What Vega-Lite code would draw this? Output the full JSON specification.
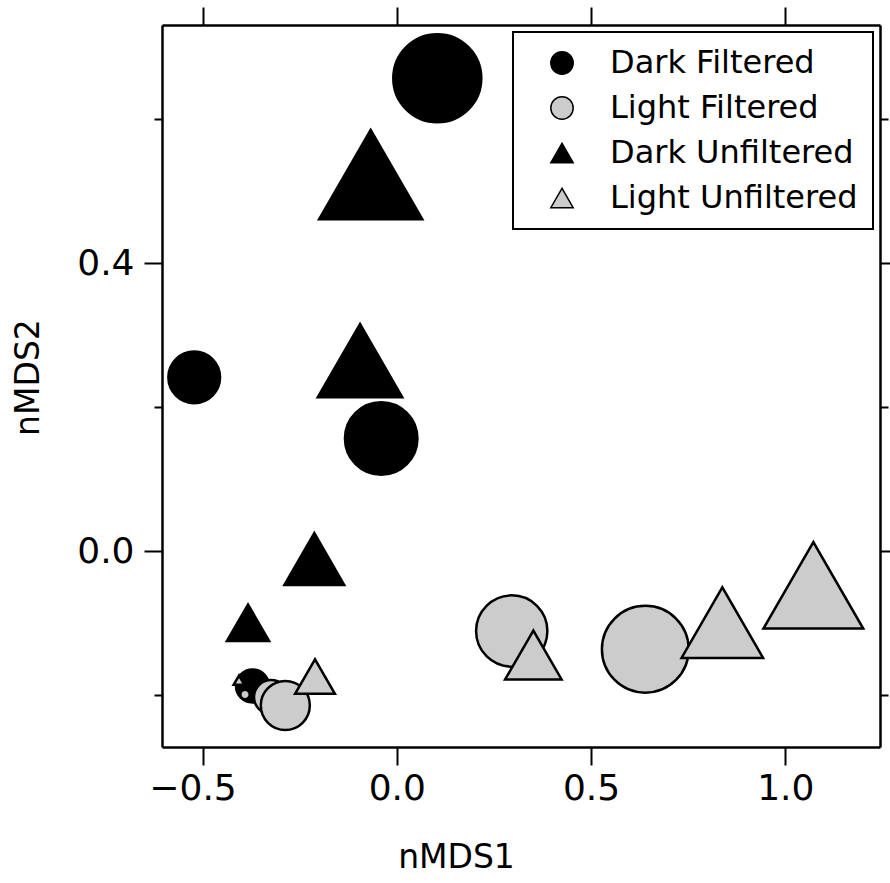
{
  "$schema": "https://vega.github.io/schema/vega-lite/v6.json",
  "width": 718,
  "height": 722,
  "autosize": {"type": "none"},
  "padding": {"left": 162, "top": 25, "right": 10, "bottom": 136},
  "background": "white",
  "config": {
    "view": {"stroke": null},
    "font": "DejaVu Sans",
    "legend": {"strokeWidth": 2},
    "axis": {
      "domainColor": "black",
      "domainWidth": 2.5,
      "tickColor": "black",
      "tickWidth": 2,
      "labelColor": "black",
      "titleColor": "black",
      "labelFont": "DejaVu Sans",
      "titleFont": "DejaVu Sans",
      "labelFontSize": 36,
      "titleFontSize": 33,
      "titleFontWeight": "normal",
      "grid": false
    }
  },
  "data": {
    "values": [
      {"group": "Dark Filtered", "nMDS1": -0.3714, "nMDS2": -0.1875, "mag": 3.3},
      {"group": "Dark Filtered", "nMDS1": -0.5215, "nMDS2": 0.2413, "mag": 5.17},
      {"group": "Dark Filtered", "nMDS1": -0.0402, "nMDS2": 0.1563, "mag": 7.25},
      {"group": "Dark Filtered", "nMDS1": 0.1042, "nMDS2": 0.6565, "mag": 8.8},
      {"group": "Light Filtered", "nMDS1": -0.3907, "nMDS2": -0.1993, "mag": 0.94},
      {"group": "Light Filtered", "nMDS1": -0.3238, "nMDS2": -0.2028, "mag": 3.4},
      {"group": "Light Filtered", "nMDS1": -0.287, "nMDS2": -0.2146, "mag": 4.9},
      {"group": "Light Filtered", "nMDS1": 0.2958, "nMDS2": -0.1111, "mag": 7.13},
      {"group": "Light Filtered", "nMDS1": 0.6396, "nMDS2": -0.1364, "mag": 8.68},
      {"group": "Dark Unfiltered", "nMDS1": -0.383, "nMDS2": -0.0997, "mag": 4.22},
      {"group": "Dark Unfiltered", "nMDS1": -0.2124, "nMDS2": -0.0111, "mag": 5.98},
      {"group": "Dark Unfiltered", "nMDS1": -0.0947, "nMDS2": 0.2644, "mag": 8.45},
      {"group": "Dark Unfiltered", "nMDS1": -0.0672, "nMDS2": 0.5228, "mag": 10.32},
      {"group": "Light Unfiltered", "nMDS1": -0.4062, "nMDS2": -0.1794, "mag": 1.08},
      {"group": "Light Unfiltered", "nMDS1": -0.2106, "nMDS2": -0.1744, "mag": 3.98},
      {"group": "Light Unfiltered", "nMDS1": 0.3514, "nMDS2": -0.1444, "mag": 5.65},
      {"group": "Light Unfiltered", "nMDS1": 0.8378, "nMDS2": -0.0994, "mag": 8.15},
      {"group": "Light Unfiltered", "nMDS1": 1.0721, "nMDS2": -0.0476, "mag": 9.98}
    ]
  },
  "layer": [
    {
      "mark": {"type": "point", "filled": true, "stroke": "black", "strokeWidth": 2.5, "opacity": 1},
      "encoding": {
        "x": {
          "field": "nMDS1", "type": "quantitative",
          "scale": {"domain": [-0.6044, 1.2437], "nice": false, "zero": false},
          "axis": {
            "orient": "bottom",
            "values": [-0.5, 0, 0.5, 1],
            "format": ".1f",
            "labelOffset": {"condition": {"test": "datum.value < 0", "value": -10}, "value": 0},
            "tickSize": 18,
            "labelPadding": 6,
            "labelFlush": false,
            "title": "nMDS1",
            "titleX": 294,
            "titleY": 110,
            "titleAlign": "center",
            "titleBaseline": "middle"
          }
        },
        "y": {
          "field": "nMDS2", "type": "quantitative",
          "scale": {"domain": [-0.2722, 0.7306], "nice": false, "zero": false},
          "axis": {
            "orient": "left",
            "values": [0, 0.4],
            "format": ".1f",
            "tickSize": 18,
            "labelPadding": 10,
            "labelFlush": false,
            "title": "nMDS2",
            "titleAngle": -90,
            "titleX": -134,
            "titleY": 352,
            "titleAlign": "center",
            "titleBaseline": "middle"
          }
        },
        "color": {
          "field": "group", "type": "nominal",
          "scale": {
            "domain": ["Dark Filtered", "Light Filtered", "Dark Unfiltered", "Light Unfiltered"],
            "range": ["#000000", "#cccccc", "#000000", "#cccccc"]
          },
          "legend": {
            "orient": "none",
            "legendX": 351,
            "legendY": 7,
            "title": null,
            "labelFont": "DejaVu Sans",
            "labelFontSize": 32,
            "labelLimit": 500,
            "labelColor": "black",
            "symbolSize": 500,
            "symbolStrokeColor": "black",
            "symbolStrokeWidth": 1.5,
            "symbolOffset": 18,
            "labelOffset": 32,
            "padding": 15,
            "rowPadding": 13,
            "strokeColor": "black",
            "fillColor": "white"
          }
        },
        "shape": {
          "field": "group", "type": "nominal",
          "scale": {
            "domain": ["Dark Filtered", "Light Filtered", "Dark Unfiltered", "Light Unfiltered"],
            "range": ["circle", "circle", "triangle-up", "triangle-up"]
          },
          "legend": {
            "orient": "none",
            "legendX": 351,
            "legendY": 7,
            "title": null,
            "labelFont": "DejaVu Sans",
            "labelFontSize": 32,
            "labelLimit": 500,
            "labelColor": "black",
            "symbolSize": 500,
            "symbolStrokeColor": "black",
            "symbolStrokeWidth": 1.5,
            "symbolOffset": 18,
            "labelOffset": 32,
            "padding": 15,
            "rowPadding": 13,
            "strokeColor": "black",
            "fillColor": "white"
          }
        },
        "size": {
          "field": "mag", "type": "quantitative",
          "scale": {"type": "pow", "exponent": 2, "domain": [0, 11], "range": [0, 12100], "zero": true},
          "legend": null
        }
      }
    },
    {
      "mark": {"type": "point", "opacity": 0},
      "encoding": {
        "x": {
          "field": "nMDS1", "type": "quantitative",
          "scale": {"domain": [-0.6044, 1.2437], "nice": false, "zero": false},
          "axis": {"orient": "top", "values": [-0.5, 0, 0.5, 1], "labels": false, "tickSize": 18, "title": null}
        },
        "y": {
          "field": "nMDS2", "type": "quantitative",
          "scale": {"domain": [-0.2722, 0.7306], "nice": false, "zero": false},
          "axis": {"orient": "left", "values": [-0.2, 0.2, 0.6], "labels": false, "tickSize": 8, "domain": false, "title": null}
        }
      }
    },
    {
      "mark": {"type": "point", "opacity": 0},
      "encoding": {
        "x": {"field": "nMDS1", "type": "quantitative", "scale": {"domain": [-0.6044, 1.2437], "nice": false, "zero": false}, "axis": null},
        "y": {
          "field": "nMDS2", "type": "quantitative",
          "scale": {"domain": [-0.2722, 0.7306], "nice": false, "zero": false},
          "axis": {"orient": "right", "values": [0, 0.4], "labels": false, "tickSize": 18, "title": null}
        }
      }
    },
    {
      "mark": {"type": "point", "opacity": 0},
      "encoding": {
        "x": {"field": "nMDS1", "type": "quantitative", "scale": {"domain": [-0.6044, 1.2437], "nice": false, "zero": false}, "axis": null},
        "y": {
          "field": "nMDS2", "type": "quantitative",
          "scale": {"domain": [-0.2722, 0.7306], "nice": false, "zero": false},
          "axis": {"orient": "right", "values": [-0.2, 0.2, 0.6], "labels": false, "tickSize": 8, "domain": false, "title": null}
        }
      }
    }
  ],
  "resolve": {"axis": {"x": "independent", "y": "independent"}}
}
